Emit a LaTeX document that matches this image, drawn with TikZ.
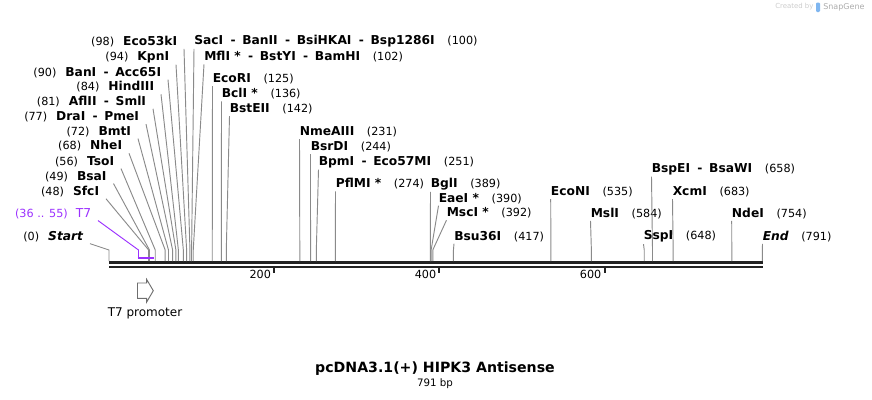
\documentclass[tikz,border=0pt]{standalone}
\usepackage{fontspec}
\setmainfont{DejaVu Sans}
\usepackage{xcolor}
\usepackage{tikz}
\usetikzlibrary{positioning}

\definecolor{sitegray}{HTML}{8A8A8A}
\definecolor{seqdark}{HTML}{222222}
\definecolor{featpurple}{HTML}{9B30FF}
\definecolor{logoblue}{HTML}{7FB6F0}
\newcommand{\enzname}{\fontsize{9.2}{11}\selectfont\bfseries}
\newcommand{\enzpos}{\fontsize{8.4}{10}\selectfont\mdseries\upshape}
\newcommand{\enzsep}{\hspace{5.5pt}-\hspace{5pt}}

\begin{document}
\begin{tikzpicture}[x=0.75pt, y=-0.75pt,
    leftlab/.style={anchor=east, inner xsep=5pt, inner ysep=1.2pt},
    rightlab/.style={anchor=west, inner xsep=0pt, inner ysep=1.2pt},
    cut/.style={draw=sitegray, line width=0.7pt},
    seq/.style={draw=seqdark, line width=2.1pt}]
    \useasboundingbox (0,0) rectangle (872,400);

    % Sequence
    \coordinate (seqL) at (109,262.6);
    \coordinate (seqR) at (762.5,262.6);
    \draw[seq] (seqL) -- (seqR);
    \draw[seq] ([yshift=-3.3pt]seqL) -- ([yshift=-3.3pt]seqR);
    \foreach \t in {200,400,600} {
        \coordinate (t\t) at ({109+0.826*\t},267);
        \draw[seqdark, line width=1.5pt] (t\t) -- ++(0,6);
        \node[anchor=east, inner xsep=1.5pt, font=\enzpos] (tl\t) at ({109+0.826*\t-1},274) {\t};
    }

    % Sites, labels on the left
    \foreach \p/\lx/\ly/\nm in {98/184/41.5/Eco53kI, 94/176/57/KpnI,
            90/168/72.5/BanI\enzsep Acc65I, 84/161/87/HindIII,
            81/153/101.5/AflII\enzsep SmlI, 77/146/117/DraI\enzsep PmeI,
            72/138/131.5/BmtI, 68/129/146/NheI, 56/121/161.5/TsoI,
            49/113.5/176.5/BsaI, 48/106/191.5/SfcI, 0/90/236.5/\itshape Start} {
        \node[leftlab] (e\p) at (\lx,\ly) {\enzpos(\p)\hspace{6.75pt}\enzname\nm};
        \coordinate (k\p) at ({109+0.826*\p},250);
        \coordinate (s\p) at ({109+0.826*\p},261);
        \draw[cut] (e\p.south east) -- (k\p) -- (s\p);
    }

    % Sites, labels on the right
    \foreach \p/\lx/\ly/\nm in {100/194/41/SacI\enzsep BanII\enzsep BsiHKAI\enzsep Bsp1286I,
            102/204/57/MflI *\enzsep BstYI\enzsep BamHI, 125/212.5/79/EcoRI,
            136/221.5/94/BclI *, 142/229.5/109/BstEII,
            231/299.5/132/NmeAIII, 244/310.5/147/BsrDI,
            251/318.5/162/BpmI\enzsep Eco57MI, 274/335.5/184/PflMI *,
            389/430.5/184/BglI, 390/438.5/198.5/EaeI *, 392/446.5/213/MscI *,
            417/454/236.5/Bsu36I, 535/550.7/192/EcoNI, 584/590.5/213.5/MslI,
            648/643.5/236.5/SspI, 658/651.5/169/BspEI\enzsep BsaWI,
            683/672.5/192/XcmI, 754/731.7/213.5/NdeI, 791/762.5/236.5/\itshape End} {
        \node[rightlab] (e\p) at (\lx,\ly) {\enzname\nm\hspace{9.5pt}\enzpos(\p)};
        \coordinate (k\p) at ({109+0.826*\p},250);
        \coordinate (s\p) at ({109+0.826*\p},261);
        \draw[cut] (e\p.south west) -- (k\p) -- (s\p);
    }

    % T7 feature
    \node[leftlab, text=featpurple] (t7lab) at (98,213.5)
        {\enzpos(36 .. 55)\hspace{6pt}\fontsize{9.2}{11}\selectfont T7};
    \coordinate (t7k) at (138.5,250);
    \coordinate (t7s) at (138.5,257);
    \draw[featpurple, line width=0.7pt] (t7lab.south east) -- (t7k) -- (t7s);
    \draw[featpurple, line width=1.6pt] (137.7,258) -- (154,258);

    % T7 promoter
    \draw[sitegray!80!black, line width=0.7pt] (137.5,283) -- (146.7,283) -- (146.7,279.5)
        -- (153.3,290.7) -- (146.7,302) -- (146.7,298.3) -- (137.5,298.3) -- cycle;
    \node (t7prom) at (145,313) {\fontsize{9}{11}\selectfont T7 promoter};

    % Title
    \node (title) at (435,369) {\fontsize{10.6}{13}\selectfont\bfseries pcDNA3.1(+) HIPK3 Antisense};
    \node (len) at (435,384) {\fontsize{7.7}{9}\selectfont 791 bp};

    % Watermark
    \node[text=gray!40, anchor=west, inner sep=0pt] (wm1) at (775,7) {\fontsize{5.2}{6}\selectfont Created by};
    \fill[logoblue, rounded corners=0.8pt] (816,2.5) rectangle (820,12);
    \node[text=gray!65, anchor=west, inner sep=0pt] (wm2) at (823,7) {\fontsize{6}{7}\selectfont SnapGene};
\end{tikzpicture}
\end{document}
